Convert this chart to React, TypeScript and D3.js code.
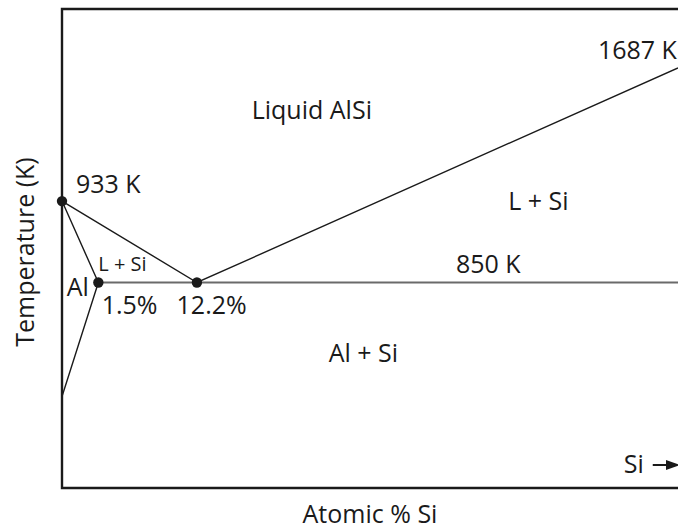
import React from "react";
import * as d3 from "d3";

// Schematic phase-diagram coordinates (0–100 units on both axes; diagram is not to scale)
const nodeNames = ["Al melting point", "Al solubility limit", "Eutectic", "Si melting point", "Solvus end", "Isotherm end"];
const nodeX = [0, 5.9, 21.9, 100, 0, 100];
const nodeY = [59.9, 42.9, 42.9, 87.7, 19.1, 42.9];

// boundaries as index lists into the node arrays
const liquidusPath = [0, 2, 3];
const solidusPath = [0, 1, 4];
const eutecticLine = [1, 5];
const dotNodes = [0, 1, 2];

// annotations
const labelTexts = ["1687 K", "Liquid AlSi", "933 K", "L + Si", "850 K", "L + Si", "Al", "1.5%", "12.2%", "Al + Si", "Si"];
const labelX = [87.0, 30.8, 2.27, 72.45, 63.96, 5.9, 0.76, 6.44, 18.6, 43.3, 91.2];
const labelY = [89.6, 77.0, 61.6, 58.0, 44.8, 45.2, 40.1, 36.3, 36.3, 26.3, 3.2];
const labelSizes = [25, 25, 25, 25, 25, 20, 25, 25, 25, 25, 25];

const arrowX = [95.9, 100];
const arrowY = 4.8;

const xTitle = "Atomic % Si";
const yTitle = "Temperature (K)";

const W = 678;
const H = 531;
const FONT = "'Open Sans', 'Noto Sans', sans-serif";

export default function App() {
  const x = d3.scaleLinear().domain([0, 100]).range([62, 678]);
  const y = d3.scaleLinear().domain([0, 100]).range([488, 9]);
  const line = d3
    .line<number>()
    .x((i) => x(nodeX[i]))
    .y((i) => y(nodeY[i]));

  const frame = d3.line<[number, number]>().x((d) => x(d[0])).y((d) => y(d[1]));

  const ax0 = x(arrowX[0]);
  const ax1 = x(arrowX[1]);
  const ay = y(arrowY);

  return (
    <svg
      width={W}
      height={H}
      style={{ position: "absolute", left: 0, top: 0, background: "#fff" }}
      fontFamily={FONT}
    >
      {/* frame: top, left, bottom */}
      <path
        d={frame([[100, 100], [0, 100], [0, 0], [100, 0]]) || ""}
        fill="none"
        stroke="#1a1a1a"
        strokeWidth={2.4}
      />
      {/* eutectic isotherm */}
      <path d={line(eutecticLine) || ""} fill="none" stroke="#6a6a6a" strokeWidth={2.2} />
      {/* liquidus */}
      <path d={line(liquidusPath) || ""} fill="none" stroke="#1a1a1a" strokeWidth={1.4} />
      {/* solidus / solvus */}
      <path d={line(solidusPath) || ""} fill="none" stroke="#1a1a1a" strokeWidth={1.4} />
      {dotNodes.map((i) => (
        <circle key={nodeNames[i]} cx={x(nodeX[i])} cy={y(nodeY[i])} r={5.2} fill="#1a1a1a" />
      ))}
      {labelTexts.map((t, i) => (
        <text key={i} x={x(labelX[i])} y={y(labelY[i])} fontSize={labelSizes[i]} fill="#1a1a1a">
          {t}
        </text>
      ))}
      {/* Si arrow */}
      <line x1={ax0} y1={ay} x2={ax1 - 8} y2={ay} stroke="#1a1a1a" strokeWidth={2} />
      <path d={`M${ax1 - 12},${ay - 5} L${ax1 + 2},${ay} L${ax1 - 12},${ay + 5} Z`} fill="#1a1a1a" />
      {/* axis titles */}
      <text x={370} y={523} textAnchor="middle" fontSize={25} fill="#1a1a1a">
        {xTitle}
      </text>
      <text
        transform={`translate(34,${252}) rotate(-90)`}
        textAnchor="middle"
        fontSize={25}
        fill="#1a1a1a"
      >
        {yTitle}
      </text>
    </svg>
  );
}
